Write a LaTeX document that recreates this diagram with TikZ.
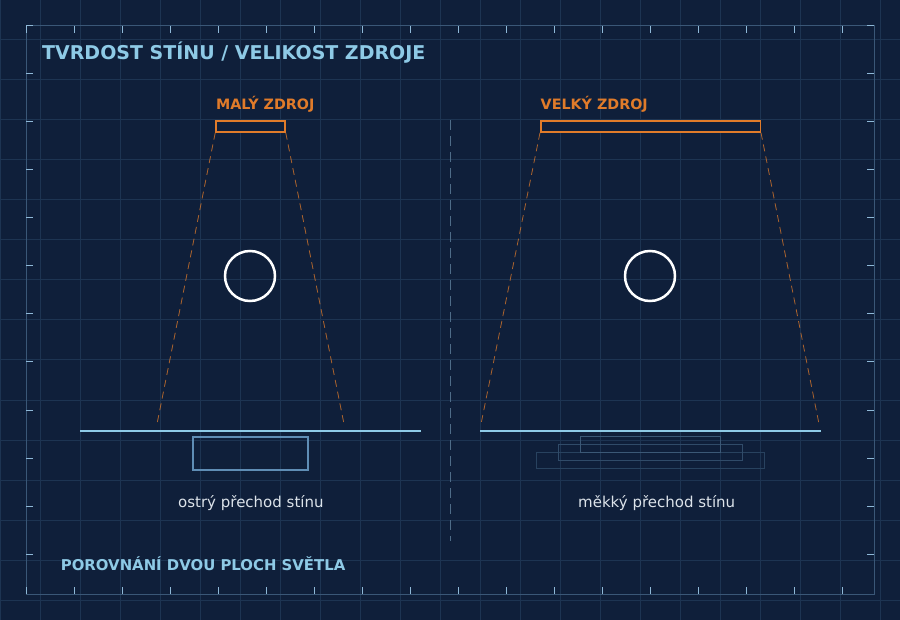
\documentclass[tikz,border=0pt]{standalone}
\usepackage{fontspec}
\setmainfont{DejaVu Sans}
\definecolor{bg}{HTML}{0F1F3A}
\definecolor{gridc}{HTML}{1D3452}
\definecolor{framec}{HTML}{3A5777}
\definecolor{tickc}{HTML}{8FB9D8}
\definecolor{titlec}{HTML}{8ECAE6}
\definecolor{orangec}{HTML}{E07B2A}
\definecolor{groundc}{HTML}{8ECAE6}
\definecolor{shadowc}{HTML}{5F8DB5}
\definecolor{softa}{HTML}{3B5876}
\definecolor{softb}{HTML}{304B69}
\definecolor{softc}{HTML}{28425F}
\definecolor{textc}{HTML}{DCE3EA}
\definecolor{divc}{HTML}{4E6C88}
\tikzset{
  x=1pt, y=-1pt,
  gridline/.style={draw=gridc, line width=1pt},
  framestyle/.style={draw=framec, line width=1pt},
  tickstyle/.style={draw=tickc, line width=1pt},
  titlefont/.style={text=titlec, font=\fontsize{19}{19}\selectfont\bfseries, anchor=base west, inner sep=0},
  srclabel/.style={text=orangec, font=\fontsize{14.3}{14}\selectfont\bfseries, anchor=base west, inner sep=0},
  srcbox/.style={draw=orangec, fill=bg, line width=1.5pt, inner sep=0, rectangle},
  ray/.style={draw=orangec, draw opacity=0.75, line width=0.8pt, dash pattern=on 7pt off 5pt},
  objcircle/.style={circle, draw=white, line width=2.5pt, inner sep=0, minimum size=50},
  groundline/.style={draw=groundc, line width=2pt},
  hardshadow/.style={draw=shadowc, line width=2pt},
  caption/.style={text=textc, font=\fontsize{15}{15}\selectfont, anchor=base west, inner sep=0},
  footlabel/.style={text=titlec, font=\fontsize{14.9}{15}\selectfont\bfseries, anchor=base west, inner sep=0},
  divider/.style={draw=divc, line width=1pt, dash pattern=on 10pt off 6pt},
}
\begin{document}
\begin{tikzpicture}
\useasboundingbox (0,0) rectangle (900,620);
\fill[bg] (0,0) rectangle (900,620);
% grid
\foreach \gx in {0,40,...,880} { \draw[gridline] (\gx,0) -- (\gx,620); }
\foreach \gy in {0,40,...,600} { \draw[gridline] (0,\gy) -- (900,\gy); }
% frame
\draw[framestyle] (26,26) rectangle (874,594);
\foreach \k in {0,...,17} {
  \pgfmathsetmacro{\tx}{26+48*\k}
  \draw[tickstyle] (\tx,26) -- (\tx,33);
  \draw[tickstyle] (\tx,594) -- (\tx,587);
}
\foreach \k in {0,...,11} {
  \pgfmathsetmacro{\ty}{26+48*\k}
  \draw[tickstyle] (26,\ty) -- (33,\ty);
  \draw[tickstyle] (874,\ty) -- (867,\ty);
}
% title
\node[titlefont] (title) at (42,60) {TVRDOST STÍNU / VELIKOST ZDROJE};
% divider
\coordinate (divtop) at (450,120);
\coordinate (divbot) at (450,541);
\draw[divider] (divtop) -- (divbot);
% left scene
\node[srclabel] (labL) at (216,110) {MALÝ ZDROJ};
\coordinate (rayL1) at (157,424);
\coordinate (rayL2) at (344,424);
\node[srcbox, minimum width=69, minimum height=11] (srcL) at (250.5,126.5) {};
\draw[ray] (srcL.south west) -- (rayL1);
\draw[ray] (srcL.south east) -- (rayL2);
\node[objcircle] (objL) at (250,276) {};
\coordinate (gL1) at (80,431);
\coordinate (gL2) at (421,431);
\draw[groundline] (gL1) -- (gL2);
\node[hardshadow, rectangle, inner sep=0, minimum width=115, minimum height=33] (shL) at (250.5,453.5) {};
\node[caption] (capL) at (178,507) {ostrý přechod stínu};
% right scene
\node[srclabel] (labR) at (540.5,110) {VELKÝ ZDROJ};
\coordinate (rayR1) at (481,424);
\coordinate (rayR2) at (819,424);
\node[srcbox, minimum width=219.5, minimum height=11] (srcR) at (650.5,126.5) {};
\draw[ray] (srcR.south west) -- (rayR1);
\draw[ray] (srcR.south east) -- (rayR2);
\node[objcircle] (objR) at (650,276) {};
\coordinate (gR1) at (480,431);
\coordinate (gR2) at (821,431);
\draw[groundline] (gR1) -- (gR2);
\node[draw=softc, line width=1pt, rectangle, inner sep=0, minimum width=228, minimum height=16] (shR3) at (650.3,460.3) {};
\node[draw=softb, line width=1pt, rectangle, inner sep=0, minimum width=184.4, minimum height=16] (shR2) at (650.5,452.3) {};
\node[draw=softa, line width=1pt, rectangle, inner sep=0, minimum width=140, minimum height=16] (shR1) at (650.3,444.3) {};
\node[caption] (capR) at (578,507) {měkký přechod stínu};
% footer
\node[footlabel] (foot) at (60.7,570) {POROVNÁNÍ DVOU PLOCH SVĚTLA};
\end{tikzpicture}
\end{document}
